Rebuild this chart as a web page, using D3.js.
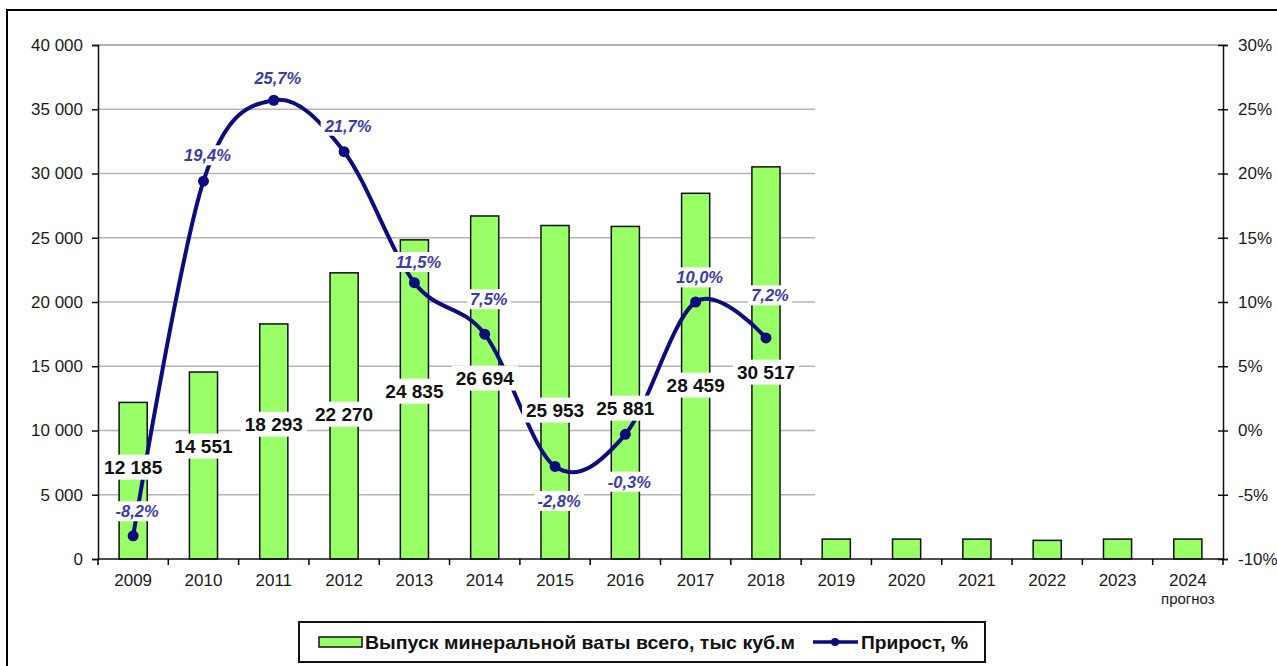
<!DOCTYPE html>
<html>
<head>
<meta charset="utf-8">
<script src="https://cdn.jsdelivr.net/npm/d3@7"></script>
<style>
  body { margin: 0; background: #fff; }
  svg { display: block; }
  text { font-family: "Liberation Sans", Arial, sans-serif; }
</style>
</head>
<body>
<div id="chart1"></div>
<script>
'use strict';

// categories
var years = ['2009', '2010', '2011', '2012', '2013', '2014', '2015', '2016',
	'2017', '2018', '2019', '2020', '2021', '2022', '2023', '2024'];

// output of mineral wool, thousand m3
var output = [12185, 14551, 18293, 22270, 24835, 26694, 25953, 25881,
	28459, 30517, 1550, 1550, 1550, 1450, 1550, 1550];

// growth, % (only 2009-2018)
var growth = [-8.2, 19.4, 25.7, 21.7, 11.5, 7.5, -2.8, -0.3, 10.0, 7.2];

// where the labels sit, in axis units (placed by hand in the original)
var outputLabelAt = [7160, 8800, 10500, 11280, 13070, 14090, 11600, 11750, 13540, 14550];
var growthLabelAt = [-6.3, 21.4, 27.4, 23.7, 13.1, 10.2, -5.5, -4.0, 11.9, 10.5];

var leftTicks = [0, 5000, 10000, 15000, 20000, 25000, 30000, 35000, 40000];
var rightTicks = [-10, -5, 0, 5, 10, 15, 20, 25, 30];

var legendNames = ['Выпуск  минеральной  ваты  всего, тыс куб.м', 'Прирост, %'];

var W = 1277, H = 666;
var pLeft = 98, pRight = 1223, pTop = 45, pBottom = 559;

var barColor = '#99ff66';
var lineColor = '#0c0c7e';
var pctColor = '#3b3ba6';

var ru = d3.formatLocale({
	decimal: ',',
	thousands: ' ',
	grouping: [3],
	currency: ['', ''],
	minus: '-'
});
var fmt = ru.format(',');
var pctFmt = ru.format('.1f');

var svg = d3.select('#chart1').append('svg')
	.attr('width', W)
	.attr('height', H);

// outer frame
svg.append('rect')
	.attr('x', 7).attr('y', 10)
	.attr('width', 1300).attr('height', 700)
	.style('fill', 'none')
	.style('stroke', '#000')
	.style('stroke-width', 2);

var x = d3.scaleBand()
	.domain(years)
	.range([pLeft, pRight]);

var yL = d3.scaleLinear()
	.domain([0, 40000])
	.range([pBottom, pTop]);

var yR = d3.scaleLinear()
	.domain([-10, 30])
	.range([pBottom, pTop]);

// gridlines (the forecast part of the original has them erased)
var gridEnd = x('2019') + x.bandwidth() * 0.2;
svg.append('g').selectAll('line')
	.data(leftTicks.slice(1))
	.enter().append('line')
	.attr('x1', pLeft)
	.attr('x2', function(d) { return d === 40000 ? pRight : gridEnd; })
	.attr('y1', function(d) { return yL(d); })
	.attr('y2', function(d) { return yL(d); })
	.style('stroke', function(d) { return d === 40000 ? '#999' : '#b4b4b4'; })
	.style('stroke-width', 1.6);

// bars
var bw = x.bandwidth() * 0.4;
svg.append('g').selectAll('rect')
	.data(output)
	.enter().append('rect')
	.attr('x', function(d, i) { return x(years[i]) + (x.bandwidth() - bw) / 2; })
	.attr('y', function(d) { return yL(d); })
	.attr('width', bw)
	.attr('height', function(d) { return pBottom - yL(d); })
	.style('fill', barColor)
	.style('stroke', '#111')
	.style('stroke-width', 1.5);

// axes
var axL = svg.append('g')
	.attr('transform', 'translate(' + pLeft + ',0)')
	.call(d3.axisLeft(yL).tickValues(leftTicks).tickFormat(fmt).tickSize(6).tickPadding(9));

var axR = svg.append('g')
	.attr('transform', 'translate(' + pRight + ',0)')
	.call(d3.axisRight(yR).tickValues(rightTicks).tickFormat(function(d) { return d + '%'; }).tickSize(5).tickPadding(10));
axR.selectAll('.tick line').attr('x1', -5);

var axB = svg.append('g')
	.attr('transform', 'translate(0,' + pBottom + ')')
	.call(d3.axisBottom(x).tickSize(0).tickPadding(15));

// x ticks between categories
axB.selectAll('line.sep')
	.data(years.concat(['end']))
	.enter().append('line')
	.attr('class', 'sep')
	.attr('x1', function(d, i) { return pLeft + i * x.step(); })
	.attr('x2', function(d, i) { return pLeft + i * x.step(); })
	.attr('y1', 0).attr('y2', 6)
	.style('stroke', '#000')
	.style('stroke-width', 1.5);

[axL, axR, axB].forEach(function(a) {
	a.select('.domain').style('stroke', '#111').style('stroke-width', 1.5);
	a.selectAll('.tick line').style('stroke', '#111').style('stroke-width', 1.5);
	a.selectAll('text')
		.style('font-size', '17px')
		.style('fill', '#1a1a1a')
		.style('font-family', '"Liberation Sans", Arial, sans-serif');
});
axB.select('.domain').attr('d', 'M' + pLeft + ',0H' + pRight);

axB.selectAll('.tick')
	.filter(function(d) { return d === '2024'; })
	.select('text')
	.append('tspan')
	.attr('x', 0)
	.attr('dy', '1.2em')
	.style('font-size', '15px')
	.text('прогноз');

// growth line
var pts = growth.map(function(d, i) {
	return [x(years[i]) + x.bandwidth() / 2, yR(d)];
});

var line = d3.line()
	.curve(d3.curveCardinal.tension(0));

svg.append('path')
	.attr('d', line(pts))
	.style('fill', 'none')
	.style('stroke', lineColor)
	.style('stroke-width', 4);

svg.append('g').selectAll('circle')
	.data(pts)
	.enter().append('circle')
	.attr('cx', function(d) { return d[0]; })
	.attr('cy', function(d) { return d[1]; })
	.attr('r', 5.5)
	.style('fill', lineColor);

// labels with white boxes
var addLabel = function(g, px, py, str, size, style, color, padX, padY) {
	var t = g.append('text')
		.attr('x', px)
		.attr('y', py)
		.attr('text-anchor', 'middle')
		.attr('dy', '0.35em')
		.style('font-size', size)
		.style('font-weight', 'bold')
		.style('font-style', style)
		.style('fill', color)
		.text(str);
	var b = t.node().getBBox();
	g.insert('rect', function() { return t.node(); })
		.attr('x', b.x - padX)
		.attr('y', b.y - padY)
		.attr('width', b.width + padX * 2)
		.attr('height', b.height + padY * 2)
		.style('fill', '#fff');
};

var labels = svg.append('g');
output.slice(0, growth.length).forEach(function(d, i) {
	addLabel(labels, x(years[i]) + x.bandwidth() / 2, yL(outputLabelAt[i]),
		fmt(d), '19px', 'normal', '#111', 4, 2);
});
growth.forEach(function(d, i) {
	addLabel(labels, x(years[i]) + x.bandwidth() / 2 + 4, yR(growthLabelAt[i]),
		pctFmt(d) + '%', '16.5px', 'italic', pctColor, 3, 1);
});

// legend
var lg = svg.append('g');
lg.append('rect')
	.attr('x', 299).attr('y', 622)
	.attr('width', 686).attr('height', 40)
	.style('fill', '#fff')
	.style('stroke', '#111')
	.style('stroke-width', 2);

lg.append('rect')
	.attr('x', 319).attr('y', 637)
	.attr('width', 43).attr('height', 10)
	.style('fill', barColor)
	.style('stroke', '#111')
	.style('stroke-width', 1.5);

lg.append('line')
	.attr('x1', 813).attr('x2', 858)
	.attr('y1', 642).attr('y2', 642)
	.style('stroke', lineColor)
	.style('stroke-width', 3.5);
lg.append('circle')
	.attr('cx', 835).attr('cy', 642).attr('r', 4)
	.style('fill', lineColor);

var legendText = [[365, 430], [861, 107]];
legendNames.forEach(function(name, i) {
	lg.append('text')
		.attr('x', legendText[i][0])
		.attr('y', 649)
		.attr('textLength', legendText[i][1])
		.attr('lengthAdjust', 'spacingAndGlyphs')
		.style('font-family', '"Liberation Sans Narrow", "Liberation Sans", Arial, sans-serif')
		.style('font-size', '19px')
		.style('font-weight', 'bold')
		.style('fill', '#111')
		.text(name);
});
</script>
</body>
</html>
